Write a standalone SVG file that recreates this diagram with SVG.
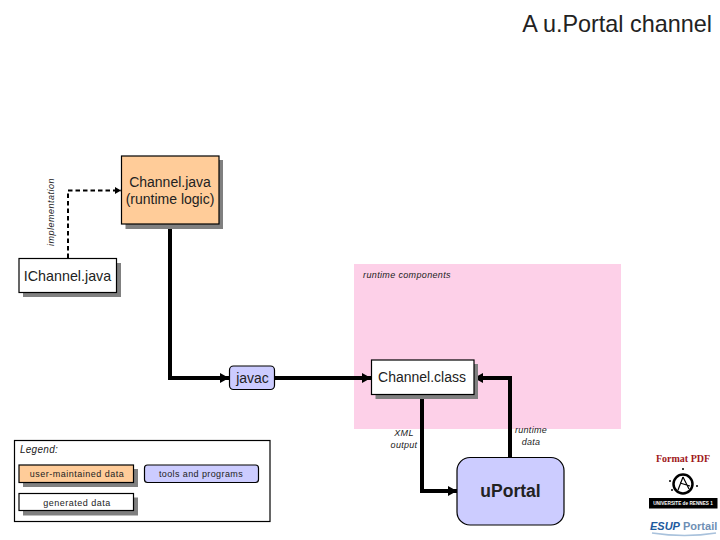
<svg xmlns="http://www.w3.org/2000/svg" width="720" height="540" viewBox="0 0 720 540">
<style>
text{font-family:"Liberation Sans",Arial,sans-serif;fill:#222;text-anchor:middle}
.m{font-size:14px}
.s{font-size:9px;letter-spacing:.5px}
.i{font-size:9px;font-style:italic;letter-spacing:.3px}
.sh{fill:#808080}
.box{stroke:#000;stroke-width:1.2}
.w{fill:#fff}.o{fill:#fc9}.b{fill:#ccf}
.thick{fill:none;stroke:#000;stroke-width:4}
.dash{fill:none;stroke:#000;stroke-width:2;stroke-dasharray:4.5 3}
</style>
<defs>
<marker id="a" markerUnits="userSpaceOnUse" markerWidth="10" markerHeight="12" refX="9" refY="6" orient="auto"><path d="M0 1L9 6L0 11Z"/></marker>
<marker id="d" markerUnits="userSpaceOnUse" markerWidth="8" markerHeight="10" refX="6" refY="5" orient="auto"><path d="M0 1.500L6 5L0 8.500Z"/></marker>
</defs>
<rect width="720" height="540" fill="#fff"/>
<rect x="354" y="264" width="267" height="165" fill="#fdd0e8"/>
<text x="712" y="32" style="font-size:23.400px;text-anchor:end">A u.Portal channel</text>
<text class="i" x="407" y="278" style="letter-spacing:.35px">runtime components</text>
<text class="i" transform="translate(54 212) rotate(-90)" style="letter-spacing:.5px">implementation</text>
<g id="connectors">
<path class="dash" d="M68 258V190.500H121" marker-end="url(#d)"/>
<path class="thick" d="M170 224V378H229" marker-end="url(#a)"/>
<path class="thick" d="M274 378H371" marker-end="url(#a)"/>
<path class="thick" d="M510 457V378H474" marker-end="url(#a)"/>
<path class="thick" d="M422 394V491H457" marker-end="url(#a)"/>
</g>
<g id="channel-java">
<rect class="sh" x="125.500" y="160" width="97.500" height="69"/>
<rect class="box o" x="121.500" y="156" width="97.500" height="68"/>
<text class="m" x="170" y="187">Channel.java</text>
<text class="m" x="170" y="204">(runtime logic)</text>
</g>
<g id="ichannel-java">
<rect class="sh" x="23" y="263" width="98" height="34"/>
<rect class="box w" x="19" y="258.500" width="97.500" height="34"/>
<text class="m" x="67.500" y="281" style="font-size:14.300px">IChannel.java</text>
</g>
<g id="javac">
<rect class="box b" x="229.500" y="366" width="45" height="23.500" rx="4"/>
<text class="m" x="252.500" y="383">javac</text>
</g>
<g id="channel-class">
<rect class="sh" x="375.500" y="364" width="102.500" height="35"/>
<rect class="box w" x="371.500" y="360" width="102.500" height="34.500"/>
<text class="m" x="422" y="382">Channel.class</text>
</g>
<g id="uportal">
<rect class="box b" x="457" y="457.500" width="107" height="67.500" rx="13"/>
<text x="510.500" y="497" style="font-size:17.500px;font-weight:bold">uPortal</text>
</g>
<text class="i" x="404" y="436">XML</text>
<text class="i" x="404" y="448">output</text>
<text class="i" x="531" y="433">runtime</text>
<text class="i" x="531" y="445">data</text>
<g id="legend">
<rect x="14.500" y="440.500" width="255.500" height="81" fill="#fff" stroke="#000" stroke-width="1.200"/>
<text class="i" x="39" y="453" style="font-size:10px">Legend:</text>
<rect class="sh" x="23" y="469" width="115" height="18"/>
<rect class="box o" x="19" y="465" width="114.500" height="17.500"/>
<text class="s" x="77" y="477">user-maintained data</text>
<rect class="box b" x="144.500" y="465" width="114" height="17.500" rx="3"/>
<text class="s" x="201" y="477" style="letter-spacing:.4px">tools and programs</text>
<rect class="sh" x="23" y="497.500" width="115" height="18"/>
<rect class="box w" x="19" y="493.500" width="114.500" height="17"/>
<text class="s" x="77" y="506">generated data</text>
</g>
<g id="logos">
<text x="683" y="462" style="font-family:'Liberation Serif',serif;font-size:10px;font-weight:bold;fill:#a01820">Format PDF</text>
<circle cx="683" cy="484" r="9.500" fill="none" stroke="#000" stroke-width="2.500"/>
<path d="M683 477L678 490M683 477L689 489M680 483L690 486" fill="none" stroke="#000" stroke-width="1.200"/>
<circle cx="670" cy="481" r="1"/><circle cx="697" cy="486" r="1"/><circle cx="683" cy="469" r="1"/><circle cx="672" cy="490" r="1"/>
<rect x="649" y="498" width="68.500" height="10.500" fill="#000"/>
<text x="683" y="505" style="font-size:4.700px;font-weight:bold;fill:#fff">UNIVERSITE de RENNES 1</text>
<text x="650" y="530" style="font-size:11px;font-weight:bold;text-anchor:start;fill:#6f8fb5"><tspan style="font-style:italic;fill:#1d5a9e">ESUP</tspan> Portail</text>
<path d="M652 533Q685 538 716 533" fill="none" stroke="#a9c2dc" stroke-width="1.500"/>
</g>
</svg>
